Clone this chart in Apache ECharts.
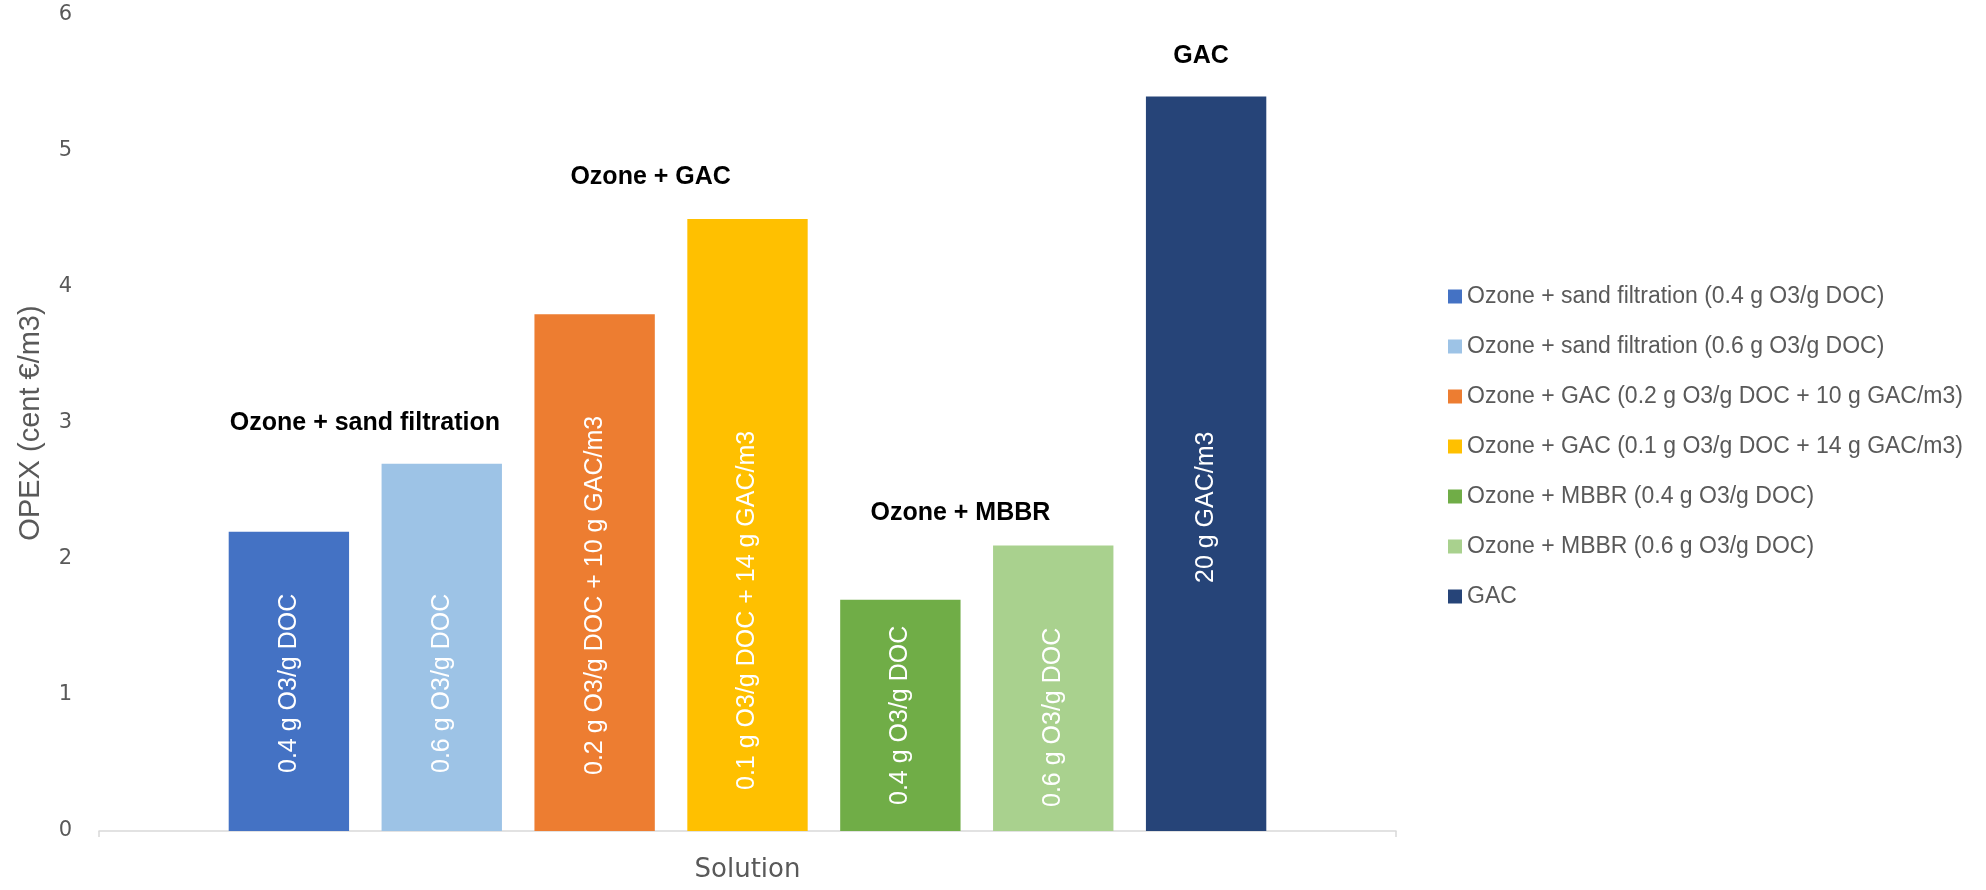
<!DOCTYPE html>
<html>
<head>
<meta charset="utf-8">
<script src="https://cdn.jsdelivr.net/npm/echarts@6/dist/echarts.min.js"></script>
<style>
  html, body { margin: 0; padding: 0; background: #fff; }
  #main { width: 1986px; height: 890px; }
</style>
</head>
<body>
<div id="main"></div>
<script>
// data
var categories = ['Solution'];
var seriesNames = [
    'Ozone + sand filtration (0.4 g O3/g DOC)',
    'Ozone + sand filtration (0.6 g O3/g DOC)',
    'Ozone + GAC (0.2 g O3/g DOC + 10 g GAC/m3)',
    'Ozone + GAC (0.1 g O3/g DOC + 14 g GAC/m3)',
    'Ozone + MBBR (0.4 g O3/g DOC)',
    'Ozone + MBBR (0.6 g O3/g DOC)',
    'GAC'
];
var opex = [2.2, 2.7, 3.8, 4.5, 1.7, 2.1, 5.4];
var barNotes = [
    '0.4 g O3/g DOC',
    '0.6 g O3/g DOC',
    '0.2 g O3/g DOC + 10 g GAC/m3',
    '0.1 g O3/g DOC + 14 g GAC/m3',
    '0.4 g O3/g DOC',
    '0.6 g O3/g DOC',
    '20 g GAC/m3'
];
var groupNames = ['Ozone + sand filtration', 'Ozone + GAC', 'Ozone + MBBR', 'GAC'];
var groupSeries = [0, 2, 4, 6];
var groupLevel = [3.0, 4.81, 2.34, 5.7];

// styles
var colors = ['#4472C4', '#9DC3E6', '#ED7D31', '#FFC000', '#70AD47', '#A9D18E', '#264478'];
var noteLift = [58, 58, 56, 41, 26, 24, 248];
var groupShift = [76, 56, 60, -5];

var chart = echarts.init(document.getElementById('main'));

var series = seriesNames.map(function (name, i) {
    var s = {
        name: name,
        type: 'bar',
        barCategoryGap: '20%',
        barGap: '27%',
        itemStyle: { color: colors[i] },
        data: [opex[i]],
        label: {
            show: true,
            position: 'insideBottom',
            distance: noteLift[i],
            rotate: 90,
            align: 'left',
            verticalAlign: 'middle',
            color: '#fff',
            fontFamily: 'Liberation Sans',
            fontSize: 25,
            formatter: barNotes[i]
        }
    };
    var g = groupSeries.indexOf(i);
    if (g >= 0) {
        s.markPoint = {
            symbol: 'rect',
            symbolSize: 1,
            itemStyle: { color: 'rgba(0,0,0,0)' },
            silent: true,
            label: {
                show: true,
                position: 'inside',
                offset: [groupShift[g], 0],
                color: '#000',
                fontFamily: 'Liberation Sans',
                fontWeight: 'bold',
                fontSize: 25,
                formatter: groupNames[g]
            },
            data: [{ coord: [0, groupLevel[g]] }]
        };
    }
    return s;
});

var option = {
    animation: false,
    backgroundColor: '#fff',
    grid: { left: 99, right: 590, top: 15, bottom: 59, containLabel: false, outerBoundsMode: 'none' },
    legend: {
        orient: 'vertical',
        left: 1443,
        top: 280,
        itemWidth: 14,
        itemHeight: 14,
        itemGap: 27,
        icon: 'rect',
        textStyle: { color: '#595959', fontFamily: 'Liberation Sans', fontSize: 23, lineHeight: 23 },
        data: seriesNames
    },
    xAxis: {
        type: 'category',
        data: categories,
        name: 'Solution',
        nameLocation: 'middle',
        nameGap: 26,
        nameTextStyle: { color: '#595959', fontFamily: 'DejaVu Sans', fontSize: 26 },
        axisLine: { lineStyle: { color: '#D9D9D9', width: 1.5 } },
        axisTick: { show: true, length: 6, lineStyle: { color: '#D9D9D9', width: 1.5 } },
        axisLabel: { show: false }
    },
    yAxis: {
        type: 'value',
        min: 0,
        max: 6,
        interval: 1,
        name: 'OPEX (cent €/m3)',
        nameLocation: 'middle',
        nameGap: 54,
        nameTextStyle: { color: '#595959', fontFamily: 'Liberation Sans', fontSize: 29 },
        axisLine: { show: false },
        axisTick: { show: false },
        splitLine: { show: false },
        axisLabel: { color: '#595959', fontFamily: 'DejaVu Sans', fontSize: 21, margin: 27 }
    },
    series: series
};

chart.setOption(option);
</script>
</body>
</html>
